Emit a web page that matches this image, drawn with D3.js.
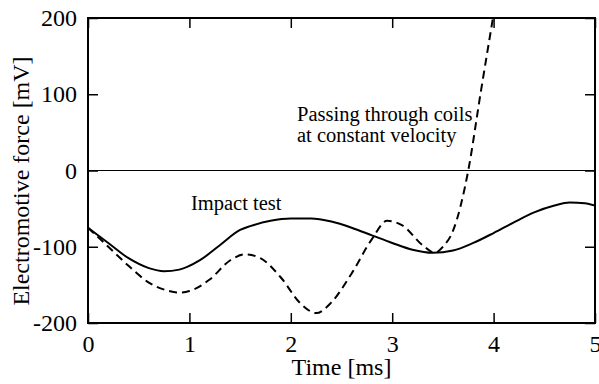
<!DOCTYPE html>
<html>
<head>
<meta charset="utf-8">
<script src="https://cdn.jsdelivr.net/npm/d3@7"></script>
<style>
  body { margin: 0; background: #fff; }
</style>
</head>
<body>
<svg id="chart" width="599" height="384"></svg>
<script>
// impact test (solid)
var impactT = [0, 0.2, 0.4, 0.6, 0.75, 0.9, 1.1, 1.3, 1.5, 1.6, 1.8, 2.0, 2.2, 2.4, 2.6, 2.8, 3.0, 3.2, 3.4, 3.6, 3.8, 4.0, 4.2, 4.4, 4.6, 4.75, 4.9, 5.0];
var impactV = [-75, -95, -115, -128, -132, -130, -118, -98, -78, -73, -66, -63, -63, -67, -75, -85, -95, -104, -108, -105, -95, -82, -68, -55, -46, -42, -43, -46];

// passing through coils at constant velocity (dashed)
var passT = [0, 0.2, 0.4, 0.6, 0.8, 0.9, 1.0, 1.2, 1.4, 1.55, 1.7, 1.9, 2.1, 2.25, 2.4, 2.6, 2.8, 2.95, 3.1, 3.3, 3.42, 3.5, 3.6, 3.75, 3.87, 4.0, 4.05];
var passV = [-75, -100, -125, -147, -158, -160, -158, -143, -118, -110, -115, -140, -175, -187, -173, -135, -90, -66, -72, -98, -108, -100, -79, 0, 100, 205, 245];

var xTicks = [0, 1, 2, 3, 4, 5];
var yTicks = [-200, -100, 0, 100, 200];

var serif = "Liberation Serif";

var svg = d3.select("#chart").attr("font-family", serif);
var pLeft = 88, pRight = 595, pTop = 18, pBottom = 323;

var x = d3.scaleLinear().domain([0, 5]).range([pLeft, pRight]);
var y = d3.scaleLinear().domain([-200, 200]).range([pBottom, pTop]);

svg.append("clipPath").attr("id", "clip")
  .append("rect").attr("x", pLeft).attr("y", pTop)
  .attr("width", pRight - pLeft).attr("height", pBottom - pTop);

// zero line
svg.append("line")
  .attr("x1", pLeft).attr("x2", pRight)
  .attr("y1", y(0)).attr("y2", y(0))
  .attr("stroke", "#000").attr("stroke-width", 1.2);

var line = d3.line().curve(d3.curveMonotoneX);

var plot = svg.append("g").attr("clip-path", "url(#clip)");

plot.append("path")
  .datum(impactT.map(function(t, i) { return [x(t), y(impactV[i])]; }))
  .attr("d", line)
  .attr("fill", "none").attr("stroke", "#000").attr("stroke-width", 2);

plot.append("path")
  .datum(passT.map(function(t, i) { return [x(t), y(passV[i])]; }))
  .attr("d", line)
  .attr("fill", "none").attr("stroke", "#000").attr("stroke-width", 2)
  .attr("stroke-dasharray", "8,5");

// axes with inward ticks on all four sides
var tickLen = 10;
var fontSize = 24;

var gx = svg.append("g").attr("transform", "translate(0," + pBottom + ")")
  .call(d3.axisBottom(x).tickValues(xTicks).tickSize(-tickLen).tickPadding(12).tickFormat(d3.format("d")));
var gxt = svg.append("g").attr("transform", "translate(0," + pTop + ")")
  .call(d3.axisTop(x).tickValues(xTicks).tickSize(-tickLen).tickFormat(""));
var gy = svg.append("g").attr("transform", "translate(" + pLeft + ",0)")
  .call(d3.axisLeft(y).tickValues(yTicks).tickSize(-tickLen).tickPadding(11).tickFormat(function(d) { return d < 0 ? "-" + Math.abs(d) : d; }));
var gyr = svg.append("g").attr("transform", "translate(" + pRight + ",0)")
  .call(d3.axisRight(y).tickValues(yTicks).tickSize(-tickLen).tickFormat(""));

[gx, gxt, gy, gyr].forEach(function(g) {
  g.attr("font-family", serif).attr("font-size", fontSize);
  g.select(".domain").remove();
  g.selectAll(".tick line").attr("stroke", "#000").attr("stroke-width", 1.5);
  g.selectAll("text").attr("fill", "#000");
});

// frame
svg.append("rect")
  .attr("x", pLeft).attr("y", pTop)
  .attr("width", pRight - pLeft).attr("height", pBottom - pTop)
  .attr("fill", "none").attr("stroke", "#000").attr("stroke-width", 2);

// axis titles
svg.append("text")
  .attr("x", (pLeft + pRight) / 2).attr("y", 375)
  .attr("text-anchor", "middle")
  .attr("font-size", fontSize)
  .text("Time [ms]");

svg.append("text")
  .attr("transform", "translate(29,181) rotate(-90)")
  .attr("text-anchor", "middle")
  .attr("font-size", fontSize)
  .text("Electromotive force [mV]");

// annotations
svg.append("text").attr("x", 297).attr("y", 121).attr("font-size", 20.5).text("Passing through coils");
svg.append("text").attr("x", 297).attr("y", 142).attr("font-size", 20.5).text("at constant velocity");
svg.append("text").attr("x", 191).attr("y", 210).attr("font-size", 20.5).text("Impact test");
</script>
</body>
</html>
